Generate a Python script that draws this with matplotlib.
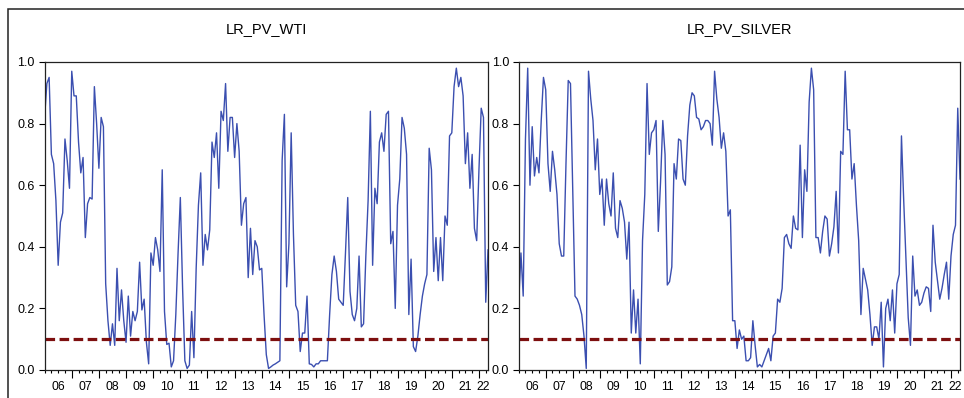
# LR_PV_WTI / LR_PV_SILVER rolling p-values, EViews style
import numpy as np,pandas as pd
import matplotlib;matplotlib.use('Agg');import matplotlib.pyplot as plt
from matplotlib.ticker import FormatStrFormatter
from matplotlib.patches import Rectangle
plt.rcParams['font.family']=['Liberation Sans','DejaVu Sans']

# monthly values, starting 2006M01
wti=[0.82,0.93,0.95,0.70,0.67,0.55,0.34,0.48,0.51,0.75,0.68,0.59,0.97,0.89,0.89,0.74,0.64,0.69,0.43,0.54,
     0.56,0.555,0.92,0.80,0.655,0.82,0.79,0.28,0.16,0.08,0.15,0.08,0.33,0.16,0.26,0.16,0.09,0.24,0.11,0.19,
     0.16,0.19,0.35,0.195,0.23,0.09,0.02,0.38,0.34,0.43,0.39,0.32,0.65,0.19,0.083,0.087,0.01,0.03,0.18,0.38,
     0.56,0.265,0.03,0.005,0.016,0.19,0.04,0.33,0.535,0.64,0.34,0.44,0.39,0.455,0.74,0.69,0.77,0.59,0.84,0.81,
     0.93,0.71,0.82,0.82,0.69,0.80,0.71,0.47,0.54,0.56,0.30,0.46,0.31,0.42,0.40,0.325,0.33,0.18,0.05,0.005,
     0.01,0.016,0.02,0.025,0.03,0.68,0.83,0.27,0.41,0.77,0.44,0.21,0.19,0.06,0.12,0.12,0.24,0.02,0.018,0.01,
     0.02,0.02,0.03,0.03,0.03,0.03,0.18,0.31,0.37,0.32,0.23,0.22,0.21,0.38,0.56,0.255,0.18,0.16,0.20,0.37,
     0.14,0.15,0.37,0.55,0.84,0.34,0.59,0.54,0.74,0.77,0.71,0.83,0.84,0.41,0.45,0.20,0.535,0.62,0.82,0.785,
     0.70,0.18,0.36,0.076,0.06,0.11,0.18,0.24,0.28,0.31,0.72,0.65,0.32,0.43,0.29,0.43,0.29,0.50,0.47,0.76,
     0.77,0.92,0.98,0.92,0.95,0.89,0.67,0.77,0.59,0.70,0.46,0.42,0.65,0.85,0.82,0.22,0.39]
silver=[0.22,0.38,0.24,0.75,0.98,0.60,0.79,0.63,0.69,0.64,0.81,0.95,0.91,0.67,0.58,0.71,0.65,0.57,0.41,0.37,
        0.37,0.67,0.94,0.93,0.59,0.24,0.23,0.21,0.18,0.11,0.005,0.97,0.88,0.81,0.65,0.75,0.57,0.62,0.47,0.62,
        0.54,0.50,0.64,0.46,0.43,0.55,0.525,0.48,0.36,0.48,0.12,0.26,0.12,0.23,0.02,0.42,0.57,0.93,0.70,0.77,
        0.78,0.81,0.45,0.61,0.81,0.70,0.276,0.287,0.335,0.67,0.62,0.75,0.745,0.62,0.60,0.76,0.86,0.90,0.89,0.82,
        0.815,0.78,0.79,0.81,0.81,0.80,0.73,0.97,0.88,0.82,0.72,0.77,0.71,0.50,0.52,0.16,0.16,0.07,0.13,0.10,
        0.11,0.03,0.03,0.04,0.16,0.08,0.01,0.018,0.01,0.03,0.05,0.07,0.03,0.11,0.12,0.23,0.22,0.265,0.43,0.44,
        0.41,0.395,0.50,0.46,0.455,0.73,0.43,0.65,0.58,0.87,0.98,0.91,0.43,0.43,0.38,0.45,0.50,0.49,0.37,0.41,
        0.465,0.58,0.38,0.71,0.70,0.97,0.78,0.78,0.62,0.67,0.535,0.42,0.18,0.33,0.295,0.26,0.18,0.08,0.14,0.14,
        0.10,0.22,0.01,0.20,0.23,0.16,0.26,0.12,0.28,0.31,0.76,0.55,0.36,0.17,0.08,0.37,0.24,0.26,0.21,0.22,
        0.25,0.27,0.265,0.19,0.47,0.35,0.29,0.23,0.265,0.31,0.35,0.23,0.37,0.44,0.47,0.85,0.62]
titles=['LR_PV_WTI','LR_PV_SILVER']
crit=0.10
yticks=[0.0,0.2,0.4,0.6,0.8,1.0]

dts=pd.date_range('2006-01-01',periods=len(wti),freq='MS')
t=np.array(dts.year+(dts.month-1)/12.0)
x0,x1=t[0],t[-1]
yrs=np.arange(int(x0),int(x1)+1)
qtr=np.arange(x0,x1+1e-9,0.25)
lab_pos=[(max(y,x0)+min(y+1,x1))/2 for y in yrs]
lab_txt=['%02d'%(y%100) for y in yrs]

W,H=964,398
fig=plt.figure(figsize=(W/100,H/100),dpi=100)
fig.patches.append(Rectangle((8.3/W,-0.05),1.2,(H-9.3)/H+0.05,transform=fig.transFigure,fill=False,ec='#222222',lw=1.1,clip_on=False))
boxes=[(44.6,488),(518.7,960)]
for (l,r),ser,ttl in zip(boxes,[wti,silver],titles):
    ax=fig.add_axes([l/W,28/H,(r-l)/W,308/H])
    ax.plot(t,ser,color='#3b4fb0',lw=1.0)
    ax.axhline(crit,color='#7d0f0f',lw=2.3,dashes=(3.0,1.4))
    ax.set_xlim(x0,x1);ax.set_ylim(0,1.0)
    ax.set_yticks(yticks);ax.yaxis.set_major_formatter(FormatStrFormatter('%.1f'))
    ax.set_xticks(yrs[yrs>x0]);ax.set_xticks(qtr,minor=True);ax.set_xticklabels([])
    ax.tick_params(axis='y',length=4,width=0.8,labelsize=9,pad=3)
    ax.tick_params(axis='x',which='major',length=5.5,width=0.8)
    ax.tick_params(axis='x',which='minor',length=2.5,width=0.8)
    for s in ax.spines.values():s.set_linewidth(0.9);s.set_color('#222222')
    sec=ax.secondary_xaxis('bottom')
    sec.set_xticks(lab_pos,labels=lab_txt);sec.tick_params(length=0,labelsize=8.8,pad=8)
    sec.spines['bottom'].set_visible(False)
    ax.set_title(ttl,fontsize=10.5,pad=21)
fig.savefig('out.png',dpi=100)
